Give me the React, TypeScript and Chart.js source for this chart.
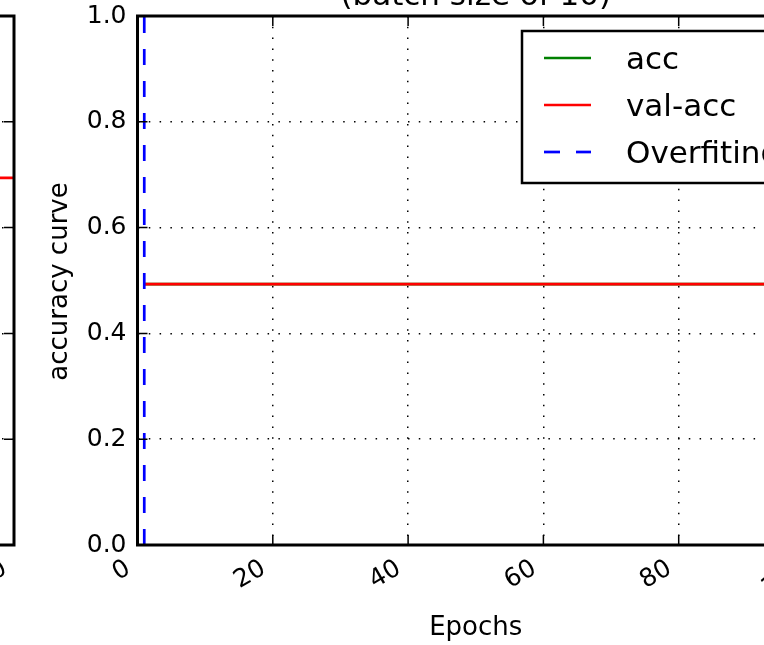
import React, { useEffect, useRef } from 'react';
import { Chart, registerables } from 'chart.js';

Chart.register(...registerables);

// ---------- data ----------
const epochs = [
  1, 2, 3, 4, 5, 6, 7, 8, 9, 10, 11, 12, 13, 14, 15, 16, 17, 18, 19, 20,
  21, 22, 23, 24, 25, 26, 27, 28, 29, 30, 31, 32, 33, 34, 35, 36, 37, 38, 39, 40,
  41, 42, 43, 44, 45, 46, 47, 48, 49, 50, 51, 52, 53, 54, 55, 56, 57, 58, 59, 60,
  61, 62, 63, 64, 65, 66, 67, 68, 69, 70, 71, 72, 73, 74, 75, 76, 77, 78, 79, 80,
  81, 82, 83, 84, 85, 86, 87, 88, 89, 90, 91, 92, 93, 94, 95, 96, 97, 98, 99, 100,
];
const accValues = [
  0.493, 0.493, 0.493, 0.493, 0.493, 0.493, 0.493, 0.493, 0.493, 0.493,
  0.493, 0.493, 0.493, 0.493, 0.493, 0.493, 0.493, 0.493, 0.493, 0.493,
  0.493, 0.493, 0.493, 0.493, 0.493, 0.493, 0.493, 0.493, 0.493, 0.493,
  0.493, 0.493, 0.493, 0.493, 0.493, 0.493, 0.493, 0.493, 0.493, 0.493,
  0.493, 0.493, 0.493, 0.493, 0.493, 0.493, 0.493, 0.493, 0.493, 0.493,
  0.493, 0.493, 0.493, 0.493, 0.493, 0.493, 0.493, 0.493, 0.493, 0.493,
  0.493, 0.493, 0.493, 0.493, 0.493, 0.493, 0.493, 0.493, 0.493, 0.493,
  0.493, 0.493, 0.493, 0.493, 0.493, 0.493, 0.493, 0.493, 0.493, 0.493,
  0.493, 0.493, 0.493, 0.493, 0.493, 0.493, 0.493, 0.493, 0.493, 0.493,
  0.493, 0.493, 0.493, 0.493, 0.493, 0.493, 0.493, 0.493, 0.493, 0.493,
];
const valAccValues = [
  0.493, 0.493, 0.493, 0.493, 0.493, 0.493, 0.493, 0.493, 0.493, 0.493,
  0.493, 0.493, 0.493, 0.493, 0.493, 0.493, 0.493, 0.493, 0.493, 0.493,
  0.493, 0.493, 0.493, 0.493, 0.493, 0.493, 0.493, 0.493, 0.493, 0.493,
  0.493, 0.493, 0.493, 0.493, 0.493, 0.493, 0.493, 0.493, 0.493, 0.493,
  0.493, 0.493, 0.493, 0.493, 0.493, 0.493, 0.493, 0.493, 0.493, 0.493,
  0.493, 0.493, 0.493, 0.493, 0.493, 0.493, 0.493, 0.493, 0.493, 0.493,
  0.493, 0.493, 0.493, 0.493, 0.493, 0.493, 0.493, 0.493, 0.493, 0.493,
  0.493, 0.493, 0.493, 0.493, 0.493, 0.493, 0.493, 0.493, 0.493, 0.493,
  0.493, 0.493, 0.493, 0.493, 0.493, 0.493, 0.493, 0.493, 0.493, 0.493,
  0.493, 0.493, 0.493, 0.493, 0.493, 0.493, 0.493, 0.493, 0.493, 0.493,
];
const overfitEpoch = 1;
const overfitYRange = [0, 1];
// neighbouring subplot (only its right edge is visible)
const leftEpochs = [96, 97, 98, 99, 100];
const leftValAccValues = [0.694, 0.694, 0.694, 0.694, 0.694];

const xTicks = [0, 20, 40, 60, 80, 100];
const xTickLabels = ['0', '20', '40', '60', '80', '100'];
const yTicks = [0, 0.2, 0.4, 0.6, 0.8, 1.0];
const yTickLabels = ['0.0', '0.2', '0.4', '0.6', '0.8', '1.0'];

const titleText = '(batch size of 10)';
const xLabelText = 'Epochs';
const yLabelText = 'accuracy curve';
const seriesLabels = ['acc', 'val-acc', 'Overfiting'];

// ---------- styles ----------
const FONT = "'DejaVu Sans', 'Liberation Sans', sans-serif";
const TICK_SIZE = 25;

const framePlugin = {
  id: 'frame',
  afterDatasetsDraw(chart: any) {
    const { ctx, chartArea, scales } = chart;
    const { left, right, top, bottom } = chartArea;
    const x = scales.x;
    const y = scales.y;
    ctx.save();
    ctx.strokeStyle = '#000';
    ctx.lineWidth = 1.5;
    ctx.setLineDash([]);
    const tl = 10;
    ctx.beginPath();
    xTicks.forEach((v) => {
      const px = x.getPixelForValue(v);
      ctx.moveTo(px, bottom);
      ctx.lineTo(px, bottom - tl);
      ctx.moveTo(px, top);
      ctx.lineTo(px, top + tl);
    });
    yTicks.forEach((v) => {
      const py = y.getPixelForValue(v);
      ctx.moveTo(left, py);
      ctx.lineTo(left + tl, py);
      ctx.moveTo(right, py);
      ctx.lineTo(right - tl, py);
    });
    ctx.stroke();
    ctx.lineWidth = 3;
    ctx.strokeRect(left, top, right - left, bottom - top);
    ctx.restore();
  },
};

const textPlugin = {
  id: 'texts',
  afterDraw(chart: any) {
    const { ctx, chartArea } = chart;
    const { left, right, top, bottom } = chartArea;
    ctx.save();
    ctx.fillStyle = '#000';
    // title
    ctx.font = `31px ${FONT}`;
    ctx.textAlign = 'center';
    ctx.textBaseline = 'alphabetic';
    ctx.fillText(titleText, (left + right) / 2, 5);
    // x label
    ctx.font = `26px ${FONT}`;
    ctx.textBaseline = 'middle';
    ctx.fillText(xLabelText, (left + right) / 2, 628);
    // y label
    ctx.save();
    ctx.translate(60, (top + bottom) / 2 + 1);
    ctx.rotate(-Math.PI / 2);
    ctx.fillText(yLabelText, 0, 0);
    ctx.restore();

    // legend
    const bx = 522, by = 31, bw = 277, bh = 152;
    ctx.fillStyle = '#fff';
    ctx.fillRect(bx, by, bw, bh);
    ctx.strokeStyle = '#000';
    ctx.lineWidth = 2.5;
    ctx.strokeRect(bx, by, bw, bh);
    const rows = [58, 105, 152];
    const baselines = [69, 115.5, 162.5];
    const ds = chart.data.datasets;
    const order = [1, 0, 2]; // dataset indices for acc, val-acc, overfitting
    order.forEach((di, i) => {
      const d = ds[di];
      ctx.save();
      ctx.strokeStyle = d.borderColor;
      ctx.lineWidth = d.borderWidth;
      ctx.setLineDash(d.borderDash || []);
      ctx.beginPath();
      ctx.moveTo(544, rows[i]);
      ctx.lineTo(591, rows[i]);
      ctx.stroke();
      ctx.restore();
      ctx.fillStyle = '#000';
      ctx.font = `31px ${FONT}`;
      ctx.textAlign = 'left';
      ctx.textBaseline = 'alphabetic';
      ctx.fillText(d.label, 626, baselines[i]);
    });
    ctx.restore();
  },
};

function makeScales() {
  return {
    x: {
      type: 'linear' as const,
      min: 0,
      max: 100,
      afterBuildTicks: (s: any) => {
        s.ticks = xTicks.map((v) => ({ value: v }));
      },
      afterFit: (s: any) => {
        s.height = 100;
        s.paddingLeft = 0;
        s.paddingRight = 0;
      },
      ticks: {
        autoSkip: false,
        minRotation: 30,
        maxRotation: 30,
        padding: 9,
        labelOffset: -9,
        color: '#000',
        font: { family: FONT, size: TICK_SIZE },
        callback: (v: any) => xTickLabels[xTicks.indexOf(Number(v))] ?? '',
      },
      grid: { color: '#000', lineWidth: 1.5, drawTicks: false },
      border: { display: false, dash: [1.5, 9.3] },
    },
    y: {
      type: 'linear' as const,
      min: 0,
      max: 1,
      afterBuildTicks: (s: any) => {
        s.ticks = yTicks.map((v) => ({ value: v }));
      },
      afterFit: (s: any) => {
        s.width = 137.5;
        s.paddingTop = 0;
        s.paddingBottom = 0;
      },
      ticks: {
        padding: 11,
        color: '#000',
        font: { family: FONT, size: TICK_SIZE },
        callback: (v: any) => {
          const i = yTicks.findIndex((t) => Math.abs(t - Number(v)) < 1e-9);
          return i >= 0 ? yTickLabels[i] : '';
        },
      },
      grid: { color: '#000', lineWidth: 1.5, drawTicks: false },
      border: { display: false, dash: [1.5, 9.3] },
    },
  };
}

export default function App() {
  const mainRef = useRef<HTMLCanvasElement | null>(null);
  const leftRef = useRef<HTMLCanvasElement | null>(null);

  useEffect(() => {
    const main = new Chart(mainRef.current as HTMLCanvasElement, {
      type: 'line',
      data: {
        datasets: [
          {
            label: seriesLabels[1],
            data: epochs.map((e, i) => ({ x: e, y: valAccValues[i] })),
            borderColor: '#ff0000',
            borderWidth: 2.7,
            pointRadius: 0,
            order: 1,
          } as any,
          {
            label: seriesLabels[0],
            data: epochs.map((e, i) => ({ x: e, y: accValues[i] })),
            borderColor: '#008000',
            borderWidth: 2.7,
            pointRadius: 0,
            order: 2,
          },
          {
            label: seriesLabels[2],
            data: overfitYRange.map((v) => ({ x: overfitEpoch, y: v })),
            borderColor: '#0000ff',
            borderWidth: 2.7,
            borderDash: [16, 16],
            pointRadius: 0,
            order: 0,
          },
        ],
      },
      options: {
        responsive: false,
        animation: false,
        events: [],
        layout: { padding: { left: 0, top: 16, right: 86, bottom: 0 } },
        plugins: { legend: { display: false }, tooltip: { enabled: false } },
        scales: makeScales() as any,
      },
      plugins: [framePlugin, textPlugin],
    });

    const left = new Chart(leftRef.current as HTMLCanvasElement, {
      type: 'line',
      data: {
        datasets: [
          {
            label: seriesLabels[1],
            data: leftEpochs.map((e, i) => ({ x: e, y: leftValAccValues[i] })),
            borderColor: '#ff0000',
            borderWidth: 2.7,
            pointRadius: 0,
          },
        ],
      },
      options: {
        responsive: false,
        animation: false,
        events: [],
        layout: { padding: { left: 0, top: 16, right: 10, bottom: 0 } },
        plugins: { legend: { display: false }, tooltip: { enabled: false } },
        scales: makeScales() as any,
      },
      plugins: [framePlugin],
    });

    return () => {
      main.destroy();
      left.destroy();
    };
  }, []);

  return (
    <div
      style={{
        position: 'fixed',
        left: 0,
        top: 0,
        width: 764,
        height: 645,
        overflow: 'hidden',
        background: '#fff',
      }}
    >
      <canvas
        ref={leftRef}
        width={700}
        height={645}
        style={{ position: 'absolute', left: -676, top: 0, width: 700, height: 645 }}
      />
      <canvas
        ref={mainRef}
        width={900}
        height={645}
        style={{ position: 'absolute', left: 0, top: 0, width: 900, height: 645 }}
      />
    </div>
  );
}
